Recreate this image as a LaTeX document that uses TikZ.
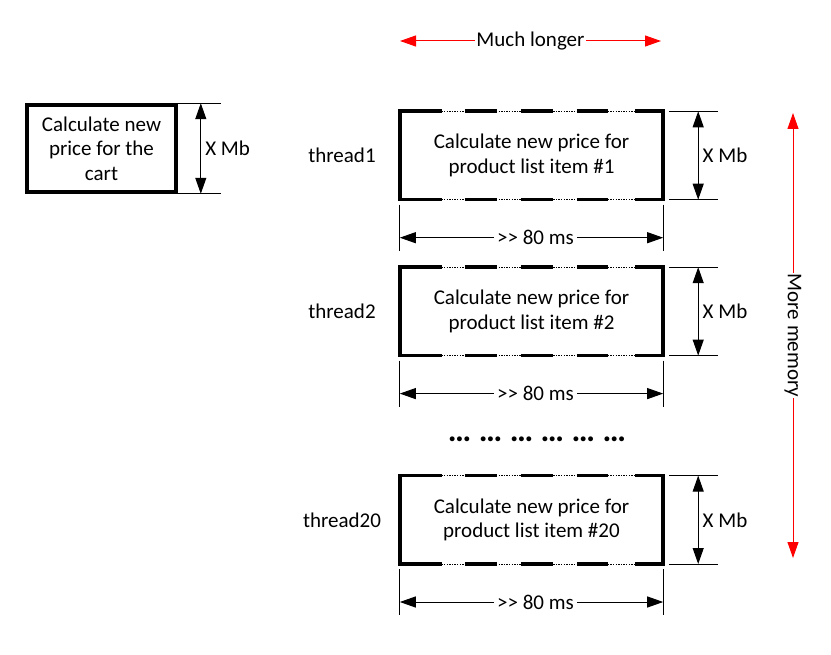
\documentclass[tikz,border=0pt]{standalone}
\usepackage{fontspec}
\setmainfont{Carlito}
\usetikzlibrary{arrows.meta, positioning, calc}
\definecolor{memred}{RGB}{255,0,0}
\tikzstyle{task}   = [rectangle, minimum width=263pt, minimum height=88pt, inner sep=0pt, align=center]
\tikzstyle{cart}   = [rectangle, draw, line width=3.6pt, minimum width=149pt, minimum height=87pt,
                      inner sep=0pt, align=center]
\tikzstyle{edge}   = [line width=3.6pt, line join=miter]
\tikzstyle{dotedge}= [line width=1pt, dash pattern=on 1.3pt off 1.3pt]
\tikzstyle{extline}= [line width=0.8pt]
\tikzstyle{dim}    = [{Triangle[length=16pt, width=11pt]}-{Triangle[length=16pt, width=11pt]}, line width=1pt]
\tikzstyle{redarr} = [dim, color=memred]

\begin{document}
\begin{tikzpicture}[x=1pt, y=-1pt, font=\fontsize{21pt}{24.5pt}\selectfont]
    \useasboundingbox (0,0) rectangle (831,655);

    \node[cart] (cart) at (101.5,148.5) {Calculate new\\price for the\\cart};
    \node[task] (task1) at (531.5,155.5) {Calculate new price for\\product list item \#1};
    \node[task, below=67.5pt of task1] (task2) {Calculate new price for\\product list item \#2};
    \node[task, below=120pt of task2] (task3) {Calculate new price for\\product list item \#20};

    \node (thread1)  at (342,0 |- task1) {thread1};
    \node (thread2)  at (342,0 |- task2) {thread2};
    \node (thread20) at (342,0 |- task3) {thread20};
    \node[font=\fontsize{33pt}{33pt}\selectfont] (dots) at (537,439) {\textbf{… … … … … …}};

    % cart size
    \draw[extline] (cart.north east) -- ++(43,0);
    \draw[extline] (cart.south east) -- ++(43,0);
    \draw[dim] ($(cart.north east)+(23,0)$) -- ($(cart.south east)+(23,0)$)
        node[midway, right, inner sep=4pt] {X Mb};

    \foreach \t in {task1,task2,task3} {
        % broken outline
        \draw[dotedge] (\t.north west) -- (\t.north east);
        \draw[dotedge] (\t.south west) -- (\t.south east);
        \draw[edge] ([xshift=42pt]\t.north west) -- (\t.north west) -- (\t.south west) -- ([xshift=42pt]\t.south west);
        \draw[edge] ([xshift=-28pt]\t.north east) -- (\t.north east) -- (\t.south east) -- ([xshift=-28pt]\t.south east);
        \foreach \a/\b in {65/97, 121/153, 177/208} {
            \draw[edge] ([xshift=\a pt]\t.north west) -- ([xshift=\b pt]\t.north west);
            \draw[edge] ([xshift=\a pt]\t.south west) -- ([xshift=\b pt]\t.south west);
        }
        % memory
        \draw[extline] ($(\t.north east)+(6,0)$) -- ++(49,0);
        \draw[extline] ($(\t.south east)+(6,0)$) -- ++(49,0);
        \draw[dim] ($(\t.north east)+(35,0)$) -- ($(\t.south east)+(35,0)$)
            node[midway, right, inner sep=4pt] {X Mb};
        % time
        \draw[extline] ($(\t.south west)+(0,5)$) -- ++(0,46);
        \draw[extline] ($(\t.south east)+(0,5)$) -- ++(0,46);
        \draw[dim] ($(\t.south west)+(0,38)$) -- ($(\t.south east)+(0,38)$)
            node[midway, xshift=4pt, fill=white, inner sep=3pt] {>{}> 80 ms};
    }

    \coordinate (longL) at (400,41);
    \coordinate (longR) at (661,41);
    \draw[redarr] (longL) -- node[fill=white, inner sep=1pt, text=black] {Much longer} (longR);
    \coordinate (memT) at (793,113);
    \coordinate (memB) at (793,558);
    \draw[redarr] (memT) -- node[fill=white, inner sep=1pt, text=black, rotate=-90] {More memory} (memB);
\end{tikzpicture}
\end{document}
